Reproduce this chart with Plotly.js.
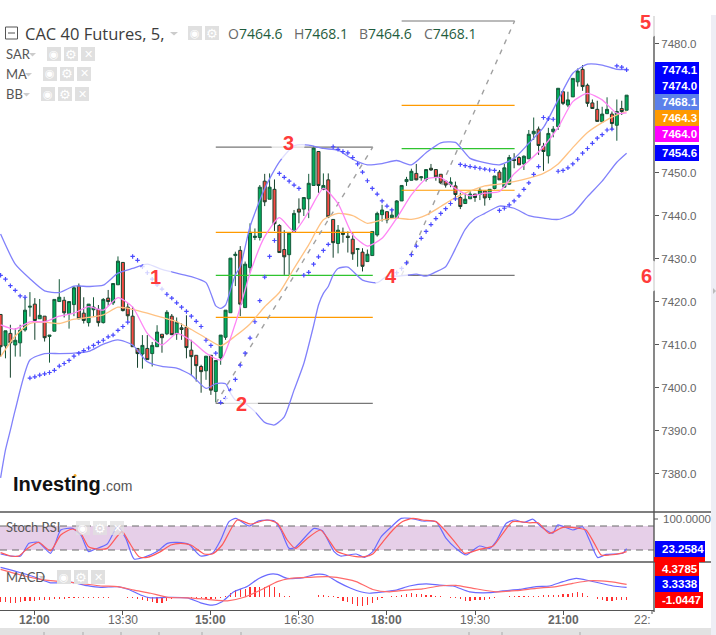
<!DOCTYPE html>
<html><head><meta charset="utf-8">
<script src="https://cdn.plot.ly/plotly-3.0.1.min.js"></script>
<style>html,body{margin:0;padding:0;background:#fff}#c{width:716px;height:635px}</style>
</head><body><div id="c"></div>
<script>
// ---------- values (candle index 0 = 11:25, 5-minute bars) ----------
const opens=[7417.1,7409.8,7412.7,7410.0,7410.5,7413.5,7418.8,7419.5,7416.1,7416.7,7412.0,7413.2,7420.1,7420.4,7417.3,7419.4,7423.7,7417.4,7415.2,7418.2,7418.3,7415.2,7420.9,7419.8,7424.0,7429.2,7418.8,7416.7,7409.2,7407.9,7409.2,7408.0,7409.6,7412.5,7412.6,7416.7,7412.6,7414.0,7414.1,7408.8,7407.6,7405.0,7404.0,7407.6,7399.2,7407.0,7411.8,7417.5,7430.8,7432.0,7418.7,7428.0,7435.0,7435.0,7448.1,7443.9,7446.2,7437.8,7432.2,7431.0,7436.2,7441.6,7441.6,7444.0,7447.1,7455.0,7446.2,7448.4,7439.2,7433.6,7436.2,7435.3,7434.6,7432.2,7431.6,7429.4,7430.8,7435.6,7440.3,7441.0,7439.6,7439.6,7443.5,7448.0,7448.3,7449.9,7448.9,7448.5,7451.1,7450.8,7449.7,7448.1,7447.3,7447.0,7444.3,7442.9,7444.0,7445.1,7445.0,7445.8,7444.3,7446.4,7450.2,7446.7,7447.4,7453.2,7453.6,7452.1,7453.3,7459.1,7460.2,7456.2,7454.0,7459.6,7460.8,7468.9,7465.8,7467.7,7471.2,7474.1,7470.4,7466.3,7464.8,7461.9,7463.8,7463.7,7461.1,7465.0,7464.6];
const highs=[7417.1,7413.3,7414.7,7413.9,7414.7,7421.1,7422.3,7420.9,7420.7,7416.7,7412.3,7420.6,7425.3,7421.2,7420.1,7423.7,7424.3,7421.1,7419.5,7421.1,7419.3,7420.9,7422.8,7424.3,7430.6,7429.2,7419.7,7418.9,7409.2,7412.3,7412.3,7410.7,7414.6,7412.5,7418.1,7417.2,7416.4,7415.0,7416.9,7411.2,7407.6,7405.4,7407.4,7407.6,7406.4,7412.3,7418.1,7430.2,7431.7,7433.0,7429.4,7438.3,7437.1,7447.2,7449.8,7449.9,7448.5,7438.1,7436.7,7436.0,7441.4,7444.1,7444.3,7449.8,7456.3,7455.0,7449.9,7449.9,7439.2,7437.9,7437.3,7436.4,7436.0,7432.4,7432.5,7432.2,7436.4,7441.0,7442.6,7441.0,7441.6,7443.7,7447.1,7449.1,7451.0,7452.1,7449.3,7450.8,7452.1,7450.8,7449.7,7448.2,7449.0,7448.0,7445.4,7445.3,7446.0,7445.1,7446.7,7445.8,7446.2,7449.3,7450.7,7452.1,7454.2,7454.6,7453.9,7454.1,7460.0,7462.9,7460.8,7457.0,7460.5,7460.9,7469.7,7468.9,7468.9,7472.0,7474.3,7475.1,7470.8,7467.1,7466.8,7465.4,7467.6,7464.3,7467.1,7466.8,7468.1];
const lows=[7407.3,7406.9,7402.4,7407.3,7407.3,7413.1,7416.6,7411.2,7416.1,7410.8,7405.9,7413.2,7420.1,7416.4,7413.8,7416.7,7416.0,7415.0,7414.3,7416.6,7414.3,7415.0,7419.1,7419.3,7424.0,7417.8,7415.7,7409.6,7404.7,7404.5,7406.6,7405.0,7409.6,7408.2,7412.3,7412.3,7411.2,7411.2,7406.9,7403.0,7401.5,7398.9,7401.9,7398.4,7396.7,7405.4,7411.2,7417.5,7423.7,7416.7,7418.7,7426.7,7434.4,7434.3,7442.3,7443.9,7436.5,7431.5,7426.3,7426.3,7436.2,7438.3,7440.0,7439.5,7447.1,7445.4,7446.0,7439.5,7430.3,7431.3,7433.8,7431.5,7429.8,7428.2,7427.1,7429.4,7430.8,7435.2,7438.7,7438.3,7439.5,7439.5,7443.5,7447.0,7448.3,7448.3,7448.2,7448.0,7450.5,7448.2,7447.4,7446.6,7446.7,7443.7,7441.6,7442.9,7444.0,7443.3,7443.7,7442.4,7443.7,7446.2,7448.4,7446.7,7447.2,7451.1,7451.9,7450.7,7453.3,7457.7,7454.2,7450.5,7452.2,7458.3,7460.0,7465.8,7465.3,7467.7,7470.1,7469.1,7465.4,7465.0,7462.0,7461.7,7463.7,7460.0,7457.5,7463.5,7464.6];
const closes=[7409.6,7413.3,7410.5,7411.1,7413.4,7418.1,7419.0,7415.7,7416.9,7411.7,7412.3,7420.6,7421.1,7417.5,7420.1,7423.3,7416.1,7415.7,7419.5,7418.8,7415.2,7420.6,7420.1,7424.3,7429.5,7418.0,7416.8,7409.6,7408.0,7409.9,7406.6,7409.9,7413.0,7411.7,7417.6,7412.4,7415.3,7413.6,7409.4,7407.3,7405.2,7403.8,7407.4,7399.5,7406.4,7412.3,7418.1,7430.2,7431.1,7419.5,7428.8,7436.2,7435.3,7446.7,7443.3,7446.7,7438.2,7431.5,7430.5,7436.0,7440.6,7440.9,7444.3,7447.6,7455.8,7447.1,7447.1,7439.8,7433.8,7436.7,7435.7,7435.0,7431.2,7432.4,7428.3,7431.1,7436.4,7440.6,7441.4,7439.1,7440.2,7443.5,7447.1,7448.5,7450.4,7448.4,7449.1,7450.8,7450.7,7449.1,7447.7,7447.2,7447.9,7445.0,7442.2,7443.9,7445.1,7444.3,7446.0,7444.2,7446.2,7449.3,7448.4,7451.2,7453.6,7452.9,7451.9,7453.9,7459.0,7459.7,7456.4,7455.0,7459.2,7460.2,7469.7,7466.2,7467.0,7472.0,7473.7,7470.1,7466.2,7465.0,7462.0,7463.7,7464.8,7461.5,7464.3,7464.3,7468.1];
const sar=[7426.2,7425.3,7423.8,7422.7,7421.4,7421.1,7402.3,7402.6,7403.0,7403.3,7403.6,7404.1,7405.1,7405.7,7406.4,7407.4,7408.1,7408.7,7409.3,7409.9,7410.6,7411.1,7411.9,7412.3,7413.4,7414.3,7415.3,7430.6,7429.7,7428.2,7426.8,7425.3,7424.0,7423.0,7421.8,7420.9,7419.8,7418.8,7417.8,7416.7,7415.5,7414.3,7411.1,7409.9,7408.1,7396.6,7397.6,7399.5,7402.0,7405.3,7408.1,7411.6,7415.4,7420.3,7425.8,7430.6,7434.3,7449.9,7449.0,7448.1,7447.2,7446.4,7426.2,7426.9,7428.8,7430.5,7432.0,7433.4,7456.1,7455.5,7455.0,7454.7,7453.6,7452.1,7450.2,7448.2,7446.4,7445.1,7443.5,7442.3,7441.4,7426.8,7427.8,7429.1,7431.0,7433.0,7434.8,7436.4,7438.0,7439.4,7440.6,7441.7,7442.9,7444.0,7452.0,7451.7,7451.5,7451.3,7451.1,7450.9,7450.7,7450.6,7441.3,7441.8,7442.6,7443.5,7444.7,7446.2,7447.7,7449.7,7451.5,7462.9,7462.6,7462.5,7450.4,7450.6,7451.2,7452.1,7453.2,7454.6,7455.7,7456.9,7458.1,7458.9,7460.0,7460.2,7474.9,7474.6,7474.0];
const bbUpperX=[0,3,6,9,12,15,18,21,24,27,30,33,36,39,42,43,44,45,46,47,48,49,51,54,57,60,63,66,69,72,75,78,81,84,87,90,93,96,99,102,105,108,111,114,117,120,123,126,128];
const bbUpper=[7435.8,7428.8,7425.4,7422.6,7422.2,7423.7,7423.6,7423.9,7426.7,7427.8,7428.8,7427.6,7426.7,7425.9,7424.5,7422.0,7419.1,7418.5,7419.3,7422.8,7426.3,7428.2,7437.5,7446.4,7452.6,7456.3,7456.5,7455.7,7455.3,7453.2,7451.9,7452.2,7452.9,7451.9,7454.7,7457.0,7457.1,7453.4,7452.4,7451.9,7453.4,7456.9,7460.6,7467.0,7473.2,7475.3,7475.1,7474.1,7474.1];
const bbLowerX=[0,1,2,3,6,9,12,15,18,21,24,27,30,33,36,39,42,44,46,47,48,50,52,54,56,58,60,62,64,65,66,67,68,69,71,74,77,79,81,83,85,87,89,91,93,95,97,99,102,105,108,111,114,117,120,123,126,128];
const bbLower=[7379.1,7385.6,7390.2,7394.9,7406.5,7408.0,7408.0,7408.1,7408.5,7410.2,7411.2,7410.0,7406.1,7405.0,7404.6,7403.0,7399.9,7401.0,7401.0,7398.8,7397.2,7396.4,7394.5,7392.0,7391.4,7393.3,7399.5,7405.7,7414.5,7419.3,7422.0,7423.6,7426.3,7427.8,7428.1,7425.1,7424.5,7426.0,7426.0,7426.2,7426.5,7426.0,7427.0,7428.2,7432.4,7436.9,7439.4,7440.6,7442.3,7441.8,7440.1,7439.5,7439.2,7440.6,7444.5,7448.1,7452.5,7454.6];
const maFastX=[0,3,6,9,12,15,18,21,24,27,30,33,36,39,42,45,48,51,54,57,60,63,66,69,72,75,78,81,84,87,90,93,96,99,102,105,108,111,114,117,120,123,126,128];
const maFast=[7414.7,7413.7,7415.4,7415.4,7416.7,7417.4,7418.9,7418.1,7421.0,7418.8,7412.7,7410.0,7412.7,7411.0,7408.1,7406.5,7415.0,7426.7,7435.2,7439.6,7436.4,7441.0,7446.4,7442.9,7435.6,7433.0,7434.8,7439.5,7444.9,7448.6,7448.9,7446.4,7444.7,7445.3,7445.7,7449.8,7452.8,7456.1,7460.6,7466.6,7468.5,7467.0,7463.9,7464.0];
const maSlowX=maFastX;
const maSlow=[7407.3,7412.1,7415.0,7415.3,7415.0,7416.0,7416.4,7417.0,7418.8,7418.3,7417.4,7416.4,7415.4,7413.6,7411.6,7409.8,7412.1,7414.9,7418.9,7422.2,7427.8,7433.3,7439.1,7440.6,7440.1,7438.3,7439.1,7439.5,7439.2,7440.2,7442.2,7444.3,7445.8,7447.0,7447.4,7448.0,7448.8,7449.9,7452.1,7455.9,7459.4,7461.7,7463.5,7464.3];
const stochKX=[0,2,4.1,5.8,7.8,10.2,11.2,12.3,14.7,16.4,18,19.4,21.8,23.9,25.6,27.3,29.3,32,34.1,36.1,38.5,40.9,43.3,45,46.7,48.1,50.8,52.8,55.9,57.3,59,60.3,64.1,65.8,68.2,69.5,72.7,74.4,76.1,77.8,79.9,81.9,83.9,86.3,89,91.1,93.1,95.2,97.9,100,101.3,103.4,105.1,107.1,108.8,110.5,112.9,113.9,117,119,120.4,122.1,123.8,127.2,128];
const stochK=[10,5,5,36.7,39,11.7,36.7,70,74,57.5,16,22.5,35,78.3,49,-2.5,1.7,16,36.7,39,34,5,11.7,45,91,99,80,93,93,70,24,27,74,68,16,5,10,1.7,16,53,78,99,99,92.5,91,49,24,7.5,30,24,41,87,95,89,97,78,62,82.5,70,78,45,1,9,11.7,23.26];
const stochDX=[0,2,3.7,5.5,7.8,10.2,12.3,14.7,16.4,18,19.8,21.8,23.9,24.9,26.2,28.3,30,32.7,34.8,36.8,38.9,41.6,43.3,45.3,48.4,51.1,54.5,56.6,58.6,60.3,62.7,65.4,67.1,68.8,70.9,72.7,74.4,76.1,78.2,80.2,82.2,84.3,86.3,89,90.8,93.1,94.9,97.9,100.7,102.7,104.7,108.2,109.9,112.2,115,118.4,119.7,121.4,122.8,124.5,127.2,128];
const stochD=[13.3,5,5,24,39,18,57.5,72.5,61.7,28,22.5,24,55,66,41,3.3,1.7,16,32.5,36.7,32.5,10,10,32.5,95,85,95,86.7,45,24,49,70,45,16,7.5,3.3,3.3,10,41,70,91,99,95,91,70,36.7,11.7,21.7,30,61.7,91,88,88,61.7,76.7,74,70,36.7,7.5,7.5,13,16];
const macdX=[0,3.4,6.8,10.2,14.3,17.7,20.5,23.9,26.2,28.6,30.7,34.1,38.2,40.9,43.3,45.3,47.7,50.4,52.8,55.2,56.6,58.6,62,64.4,66.5,68.8,71.6,73.6,75.4,78.2,80.9,83.6,87,89.7,92.5,95.9,100,102.7,106.1,109.5,112.2,115,117.7,120.4,125.2,128];
const macdLine=[10.2,8.7,7.0,4.9,5.1,3.9,3.3,3.6,2.6,0.7,-0.3,-0.1,-0.3,-2.0,-2.8,-1.6,1.8,3.6,6.4,7.9,7.8,6.4,6.7,7.8,7.6,5.3,3.0,1.8,1.3,1.8,2.4,3.8,4.5,4.1,3.8,1.8,1.5,2.1,2.6,3.6,3.8,5.3,6.4,5.6,3.8,3.3338];
const signalX=[0,4.1,8.2,12.3,16.4,20.5,23.9,27.3,30.7,34.1,38.2,42.3,46.4,49.8,53.9,56.6,59.3,63.4,66.8,70.9,72.7,76.1,79.5,82.9,86.3,89.7,93.1,96.6,101.3,105.4,109.5,113.6,117,120.4,124.5,128];
const signalLine=[9.5,7.6,6.1,5.3,4.7,3.8,3.6,2.4,1.3,-0.1,-0.3,-0.8,-1.3,-0.1,3,5.3,6.4,6.8,7,6.1,5.3,2.6,1.8,2.4,2.8,3.8,4.0,3,1.8,2.2,3,3.6,4.7,5.6,5.3,4.3785];
const macdHist=[-1.8,-1.8,-1.9,-1.9,-1.8,-1.5,-1.5,-1.3,-1.2,-1.0,-1.0,-0.8,-0.7,-0.6,-0.5,-0.4,-0.4,-0.4,-0.3,-0.3,-0.3,-0.2,-0.2,-0.1,-0.1,0,-0.2,-0.4,-0.7,-1.0,-1.5,-1.8,-2.0,-2.0,-1.3,-0.6,-0.1,0,0,-0.3,-0.5,-0.5,-0.6,-0.6,-0.6,-0.3,0.5,1.3,2.3,2.8,2.8,3.3,3.6,3.6,3.6,3.7,3.5,1.3,0.3,0.2,0.1,0.1,0.1,0.1,0,0.8,0.7,0.5,0.3,-0.4,-1.5,-1.7,-2.5,-3.0,-3.0,-2.6,-2.0,-1.0,-0.3,0,0.3,0.5,0.7,1.0,1.3,1.2,1.0,0.8,0.7,0.5,0.3,0,-0.2,-0.5,-0.8,-1.3,-1.3,-1.2,-1.1,-0.9,-0.8,-0.5,0,0,0.2,0.3,0.4,0.4,0.5,0.5,0.5,0.6,0.6,0.7,0.8,0.9,1,1.3,1.7,1.3,0.4,0,-0.7,-0.9,-1.4,-1.4,-1.2,-1.2,-1.0447];
const fibAX=[44,76.1];
const fibALevels=[7456.0,7436.2,7426.2,7416.4,7396.4];
const fibBX=[82,105.1];
const fibBLevels=[7485.35,7465.74,7455.65,7445.98,7426.2];
const fibColors=['#777777','#ff9a00','#2fc42f','#ff9a00','#777777'];
const trendAY=[7396.4,7456.0];
const trendBY=[7426.2,7485.35];
const dashedLevels=[80,20];
const priceTicks=[7380,7390,7400,7410,7420,7430,7440,7450,7460,7470,7480];
const hiddenPriceLabels=[7460,7470]; // covered by the value tags in the reference
const timeTickVals=[7,25,43,61,79,97,115];
const timeTickText=['<b>12:00</b>','13:30','<b>15:00</b>','16:30','<b>18:00</b>','19:30','<b>21:00</b>'];
const ohlcLetters=['O','H','B','C'];
const ohlcValues=['7464.6','7468.1','7464.6','7468.1'];

// ---------- page geometry helpers ----------
const W=716,H=635,PX=v=>v/W,PY=v=>1-v/H;
const sans='"Liberation Sans",Arial,sans-serif', ui='"Open Sans","Noto Sans",sans-serif', lato='Lato,"Noto Sans",sans-serif';
const idx=opens.map((_,i)=>i);
const shapes=[],ann=[];
function rect(x0,y0,x1,y1,fill,layer,op){shapes.push({type:'rect',xref:'paper',yref:'paper',x0:PX(x0),x1:PX(x1),y0:PY(y1),y1:PY(y0),fillcolor:fill,opacity:op==null?1:op,line:{width:0},layer:layer||'above'});}
function hline(x0,x1,y,c,w){shapes.push({type:'line',xref:'paper',yref:'paper',x0:PX(x0),x1:PX(x1),y0:PY(y),y1:PY(y),line:{color:c,width:w||1.4},layer:'above'});}
function vline(x,y0,y1,c,w){shapes.push({type:'line',xref:'paper',yref:'paper',x0:PX(x),x1:PX(x),y0:PY(y0),y1:PY(y1),line:{color:c,width:w||1.4},layer:'above'});}
function txt(x,y,t,size,color,opts){ann.push(Object.assign({xref:'paper',yref:'paper',x:PX(x),y:PY(y),text:t,showarrow:false,xanchor:'left',yanchor:'middle',borderpad:0,font:{family:ui,size:size,color:color}},opts||{}));}
function arrow(x,y,w){const path=`M ${PX(x)} ${PY(y)} L ${PX(x+w)} ${PY(y)} L ${PX(x+w/2)} ${PY(y+3.5)} Z`;shapes.push({type:'path',xref:'paper',yref:'paper',path,fillcolor:'#cccccc',line:{width:0},layer:'above'});}
function icon(x,y,glyph,op){rect(x,y,x+14,y+14,'#e0e0e0','above',op==null?1:op);
  txt(x+7,y+7,glyph,11,'#ffffff',{xanchor:'center',font:{family:'"DejaVu Sans",sans-serif',size:glyph==='\u2699'?13:11,color:'#ffffff'}});}
const EYE='\u25C9',GEAR='\u2699',CLOSE='\u2715';
function iconRow(x,y,gap,op,glyphs){glyphs.forEach((g,i)=>icon(x+i*gap,y,g,op));}

// ---------- traces ----------
const traces=[];
fibALevels.forEach((v,i)=>traces.push({type:'scatter',mode:'lines',x:fibAX,y:[v,v],line:{color:fibColors[i],width:1.2},hoverinfo:'skip',showlegend:false}));
fibBLevels.forEach((v,i)=>traces.push({type:'scatter',mode:'lines',x:fibBX,y:[v,v],line:{color:fibColors[i],width:1.2},hoverinfo:'skip',showlegend:false}));
traces.push({type:'scatter',mode:'lines',x:fibAX,y:trendAY,line:{color:'#a0a0a0',width:1.4,dash:'5px,6px'},showlegend:false});
traces.push({type:'scatter',mode:'lines',x:fibBX,y:trendBY,line:{color:'#a0a0a0',width:1.4,dash:'5px,6px'},showlegend:false});
const sp={shape:'spline',smoothing:0.6};
traces.push({type:'scatter',mode:'lines',x:bbUpperX,y:bbUpper,line:Object.assign({color:'#8181fb',width:1.3},sp),showlegend:false});
traces.push({type:'scatter',mode:'lines',x:bbLowerX,y:bbLower,line:Object.assign({color:'#8181fb',width:1.3},sp),showlegend:false});
traces.push({type:'candlestick',x:idx,open:opens,high:highs,low:lows,close:closes,whiskerwidth:0,
  increasing:{fillcolor:'#00ad5c',line:{color:'#15593a',width:1}},
  decreasing:{fillcolor:'#fa4a44',line:{color:'#15402c',width:1}},showlegend:false});
traces.push({type:'scatter',mode:'lines',x:maSlowX,y:maSlow,line:Object.assign({color:'#ffc283',width:1.3},sp),showlegend:false});
traces.push({type:'scatter',mode:'lines',x:maFastX,y:maFast,line:Object.assign({color:'#ff85f5',width:1.3},sp),showlegend:false});
traces.push({type:'scatter',mode:'markers',x:idx,y:sar,marker:{symbol:'cross-thin',size:3.2,color:'#4a4aff',line:{color:'#4a4aff',width:1.2}},showlegend:false});
// stochastic pane
const yTop=[115,-10];
traces.push({type:'scatter',mode:'lines',x:[-0.12,133.6],y:[80,80],yaxis:'y2',line:{width:0},showlegend:false,hoverinfo:'skip'});
traces.push({type:'scatter',mode:'lines',x:[-0.12,133.6],y:[20,20],yaxis:'y2',fill:'tonexty',fillcolor:'#e6cfe8',line:{width:0},showlegend:false,hoverinfo:'skip'});
dashedLevels.forEach(v=>traces.push({type:'scatter',mode:'lines',x:[-0.12,133.6],y:[v,v],yaxis:'y2',line:{color:'#6a6a6a',width:1.2,dash:'7px,5px'},showlegend:false}));
traces.push({type:'scatter',mode:'lines',x:stochKX,y:stochK,yaxis:'y2',line:Object.assign({color:'#6a6aff',width:1.2},sp),showlegend:false});
traces.push({type:'scatter',mode:'lines',x:stochDX,y:stochD,yaxis:'y2',line:Object.assign({color:'#ff5a5a',width:1.2},sp),showlegend:false});
// MACD pane
traces.push({type:'bar',x:idx,y:macdHist,yaxis:'y3',width:0.25,marker:{color:'#ff3030',line:{width:0}},showlegend:false});
traces.push({type:'scatter',mode:'lines',x:macdX,y:macdLine,yaxis:'y3',line:Object.assign({color:'#6a6aff',width:1.2},sp),showlegend:false});
traces.push({type:'scatter',mode:'lines',x:signalX,y:signalLine,yaxis:'y3',line:Object.assign({color:'#ff6a6a',width:1.2},sp),showlegend:false});

// ---------- halo circles and big numbers ----------
vline(654,16,612,'#555555',1.4);
const bigLabels=[['1',155,277],['2',241,404],['3',288,143],['4',391,276],['5',645,22],['6',646,276]];
bigLabels.forEach(([t,x,y])=>{
  shapes.push({type:'circle',xref:'paper',yref:'paper',x0:PX(x-17),x1:PX(x+17),y0:PY(y+17),y1:PY(y-17),fillcolor:'#ffffff',opacity:0.75,line:{width:0},layer:'above'});
  txt(x,y,t,20,'#ff3b3b',{xanchor:'center',font:{family:sans,size:20,color:'#ff3b3b',weight:700}});
});

// ---------- panes, chrome ----------
rect(711,15,716,635,'#eeeef5');
rect(0,628,711,635,'#e2e2e2');
[44,83,121,159,202,241,469,502,580].forEach(x=>vline(x,632,635,'#aaaaaa',1));
shapes.push({type:'path',xref:'paper',yref:'paper',path:`M ${PX(713)} ${PY(288)} L ${PX(716)} ${PY(291)} L ${PX(713)} ${PY(294)} Z`,fillcolor:'#bbbbbb',line:{width:0},layer:'above'});
hline(0,711,512,'#555555');
hline(0,711,562,'#555555');

// header
shapes.push({type:'rect',xref:'paper',yref:'paper',x0:PX(5.5),x1:PX(17.5),y0:PY(39),y1:PY(27),line:{color:'#555555',width:1},fillcolor:'rgba(0,0,0,0)',layer:'above'});
hline(8,15,33,'#555555',1);
txt(24,33,'CAC 40 Futures, 5,',16.5,'#3c3c3c');
arrow(170,32,8);
iconRow(188,26,17,1,[EYE,GEAR]);
const ohlcX=[227,293,358,423];
ohlcValues.forEach((v,i)=>txt(ohlcX[i],33,`<span style="color:#6a6a6a">${ohlcLetters[i]}</span>${v}`,14,'#1f5c3d'));
// indicator rows
const rowFont=(c)=>({font:{family:lato,size:13,color:c}});
txt(5,54,'SAR',13,'#555555',rowFont('#555555')); arrow(29,53,7); iconRow(47,47,17,1,[EYE,GEAR,CLOSE]);
txt(5,74,'MA',13,'#555555',rowFont('#555555')); arrow(25,73,7); iconRow(43,67,17,1,[EYE,GEAR,CLOSE]);
txt(5,94,'BB',13,'#555555',rowFont('#555555')); arrow(23,93,7); iconRow(41,87,17,1,[EYE,GEAR,CLOSE]);
txt(5,527,'Stoch RSI',13,'#555555',rowFont('#555555')); iconRow(76,521,17,0.75,[EYE,GEAR,CLOSE]);
txt(5,577,'MACD',13,'#555555',rowFont('#555555')); arrow(39,576,6); iconRow(57,570,17,1,[EYE,GEAR,CLOSE]);
// logo
txt(12,484,'<b>Investing</b>',20,'#111111',{font:{family:sans,size:20,color:'#111111'}});
txt(101,486,'.com',14,'#555555',{font:{family:sans,size:14,color:'#555555'}});
shapes.push({type:'circle',xref:'paper',yref:'paper',x0:PX(73.5),x1:PX(76.5),y0:PY(477),y1:PY(474),fillcolor:'#f5a623',line:{width:0},layer:'above'});

// value tags
const tags=[['7474.1',62,78,699,'#0000ff'],['7474.0',78,94,699,'#0000ff'],['7468.1',94,110,699,'#5b80ea'],['7464.3',110,126,699,'#ff9900'],['7464.0',126,142,699,'#ff00ff'],['7454.6',145,161,699,'#0000ff'],
 ['23.2584',541,557,705,'#0000ff'],['4.3785',562,576,699,'#ff0000'],['3.3338',576,592,699,'#0000ff'],['-1.0447',592,608,703,'#ff0000']];
rect(654,557,705,562,'#ff0000');
tags.forEach(([t,y0,y1,x1,c])=>{rect(655,y0,x1,y1,c);txt(661,(y0+y1)/2,`<b>${t}</b>`,11.5,'#ffffff',{font:{family:sans,size:11.5,color:'#ffffff'}});});
txt(662,519,'100.0000',11.5,'#666666',{font:{family:sans,size:11.5,color:'#666666'}});
hline(654,658,519,'#555555',1);
// time labels (placed on the x scale from the named tick arrays)
timeTickVals.forEach((v,i)=>ann.push({xref:'x',yref:'paper',x:v,y:PY(620),text:timeTickText[i],showarrow:false,xanchor:'center',yanchor:'middle',font:{family:sans,size:12,color:'#666666'}}));
txt(652,620,'22:',12,'#666666',{xanchor:'right',font:{family:sans,size:12,color:'#666666'}});
vline(652,610,614,'#555555',1);

const layout={width:W,height:H,margin:{l:0,r:0,t:0,b:0},paper_bgcolor:'#ffffff',plot_bgcolor:'#ffffff',showlegend:false,boxgap:0.12,
  xaxis:{domain:[0,654/W],range:[-0.12,133.6],anchor:'y3',showgrid:false,zeroline:false,showline:true,linecolor:'#555555',linewidth:1.4,
    tickmode:'array',tickvals:timeTickVals,showticklabels:false,ticks:'outside',ticklen:4,tickcolor:'#555555',rangeslider:{visible:false}},
  yaxis:{domain:[1-512/H,1],range:[7371.16,7490.23],side:'right',anchor:'x',showgrid:false,zeroline:false,showline:false,
    tickmode:'array',tickvals:priceTicks,ticktext:priceTicks.map(v=>hiddenPriceLabels.includes(v)?' ':v.toFixed(1)),ticks:'outside',ticklen:4,tickcolor:'#555555',tickfont:{family:sans,size:11.5,color:'#666666'}},
  yaxis2:{domain:[1-562/H,1-512/H],range:[yTop[1],yTop[0]],anchor:'x',showgrid:false,zeroline:false,showticklabels:false,ticks:''},
  yaxis3:{domain:[1-610/H,1-562/H],range:[-4.48,12.07],anchor:'x',showgrid:false,zeroline:false,showticklabels:false,ticks:''},
  bargap:0,barmode:'overlay',shapes,annotations:ann};
Plotly.newPlot('c',traces,layout,{displayModeBar:false,staticPlot:true});
</script></body></html>
